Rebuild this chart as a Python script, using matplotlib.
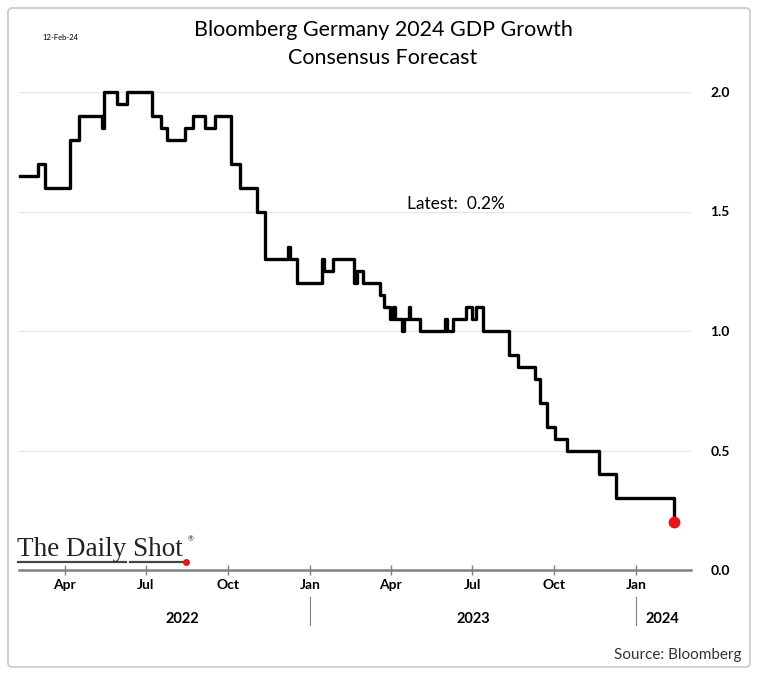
import matplotlib.pyplot as plt
import matplotlib.dates as mdates
import matplotlib.transforms as mtransforms
from matplotlib.patches import FancyBboxPatch
from matplotlib.lines import Line2D
import pandas as pd

# consensus forecast, values change on these dates (step plot)
dates = ['2022-02-10', '2022-03-02', '2022-03-10', '2022-04-07', '2022-04-17', '2022-05-13',
         '2022-05-15', '2022-05-30', '2022-06-10', '2022-07-08', '2022-07-18', '2022-07-25',
         '2022-08-14', '2022-08-23', '2022-09-05', '2022-09-16', '2022-10-04', '2022-10-14',
         '2022-11-02', '2022-11-11', '2022-12-07', '2022-12-09', '2022-12-17', '2023-01-14',
         '2023-01-16', '2023-01-26', '2023-02-19', '2023-02-22', '2023-03-01', '2023-03-20',
         '2023-03-24', '2023-03-31', '2023-04-04', '2023-04-06', '2023-04-14', '2023-04-16',
         '2023-04-21', '2023-04-23', '2023-05-04', '2023-06-01', '2023-06-03', '2023-06-10',
         '2023-06-24', '2023-07-01', '2023-07-05', '2023-07-13', '2023-08-11', '2023-08-21',
         '2023-09-09', '2023-09-15', '2023-09-23', '2023-10-02', '2023-10-15', '2023-11-20',
         '2023-12-09', '2024-02-12']
values = [1.65, 1.7, 1.6, 1.8, 1.9, 1.85, 2.0, 1.95, 2.0, 1.9, 1.85, 1.8,
          1.85, 1.9, 1.85, 1.9, 1.7, 1.6, 1.5, 1.3, 1.35, 1.3, 1.2, 1.3,
          1.25, 1.3, 1.2, 1.25, 1.2, 1.15, 1.1, 1.05, 1.1, 1.05, 1.0, 1.05,
          1.1, 1.05, 1.0, 1.05, 1.0, 1.05, 1.1, 1.05, 1.1, 1.0, 0.9, 0.85,
          0.8, 0.7, 0.6, 0.55, 0.5, 0.4, 0.3, 0.2]

y_ticks = [0.0, 0.5, 1.0, 1.5, 2.0]
month_ticks = ['2022-04-01', '2022-07-01', '2022-10-01', '2023-01-01',
               '2023-04-01', '2023-07-01', '2023-10-01', '2024-01-01']
year_labels = ['2022', '2023', '2024']
year_pos = ['2022-08-11', '2023-07-02', '2024-01-30']
year_breaks = ['2023-01-01', '2024-01-01']

x = pd.to_datetime(dates)

plt.rcParams['font.family'] = ['Lato', 'DejaVu Sans']

W, H = 758, 675
fig = plt.figure(figsize=(W / 100, H / 100), dpi=100)
ax = fig.add_axes([19 / W, 1 - 570 / H, 672 / W, (570 - 92) / H])

ax.step(x, values, where='post', color='black', lw=2.4, clip_on=False, zorder=3)
ax.plot(x[-1], values[-1], 'o', color='#e8141c', ms=7.5, clip_on=False, zorder=4)

ax.set_ylim(0, 2.0)
ax.set_xlim(pd.Timestamp('2022-02-09'), pd.Timestamp('2024-03-02'))

for v in y_ticks[1:]:
    ax.axhline(v, color='#e6e6e6', lw=1, zorder=1)

for s in ['top', 'left', 'right']:
    ax.spines[s].set_visible(False)
ax.spines['bottom'].set_color('#808080')
ax.spines['bottom'].set_linewidth(1.8)

ax.yaxis.tick_right()
ax.set_yticks(y_ticks)
ax.set_yticklabels(['%.1f' % v for v in y_ticks], fontweight='bold', fontsize=10)
ax.tick_params(axis='y', length=0, pad=14)

ax.set_xticks(pd.to_datetime(month_ticks))
ax.xaxis.set_major_formatter(mdates.DateFormatter('%b'))
ax.tick_params(axis='x', direction='inout', length=7, width=1, color='#808080',
               labelsize=10, pad=3)
for t in ax.get_xticklabels():
    t.set_fontweight('bold')

# year labels under the months
trans = mtransforms.blended_transform_factory(ax.transData, fig.transFigure)
for lab, p in zip(year_labels, year_pos):
    ax.text(pd.Timestamp(p), 1 - 619 / H, lab, transform=trans, ha='center', va='center',
            fontsize=10.5, fontweight='bold')
for b in year_breaks:
    ax.add_line(Line2D([pd.Timestamp(b)] * 2, [1 - 597 / H, 1 - 625 / H], transform=trans,
                       color='#808080', lw=0.8, clip_on=False))

# titles and notes
fig.text(383 / W, 1 - 30 / H, 'Bloomberg Germany 2024 GDP Growth', ha='center', va='center',
         fontsize=15.5)
fig.text(383 / W, 1 - 58 / H, 'Consensus Forecast', ha='center', va='center', fontsize=15.5)
fig.text(60 / W, 1 - 37 / H, '12-Feb-24', ha='center', va='center', fontsize=5.5)
fig.text(456 / W, 1 - 204 / H, 'Latest:  0.2%', ha='center', va='center', fontsize=12.5)
fig.text(742 / W, 1 - 655 / H, 'Source: Bloomberg', ha='right', va='center', fontsize=11,
         color='#333333')

# logo
fig.text(17 / W, 1 - 549 / H, 'The Daily Shot', ha='left', va='center', fontsize=19.5,
         family='Liberation Serif', color='#222222')
fig.text(188 / W, 1 - 539 / H, '®', ha='left', va='center', fontsize=5, color='#222222')
fig.add_artist(Line2D([18 / W, 126 / W], [1 - 562 / H] * 2, color='#444444', lw=1.6))
fig.add_artist(Line2D([130 / W, 186 / W], [1 - 562 / H] * 2, color='#444444', lw=1.6))
fig.add_artist(Line2D([186 / W], [1 - 562 / H], marker='o', color='#e8141c', ms=4))

# frame
fig.add_artist(FancyBboxPatch((8 / W, 8 / H), 742 / W, 659 / H,
                              boxstyle='round,pad=0,rounding_size=0.006',
                              transform=fig.transFigure, fill=False,
                              edgecolor='#c8c8c8', lw=1.2))

fig.savefig('out.png', dpi=100)
